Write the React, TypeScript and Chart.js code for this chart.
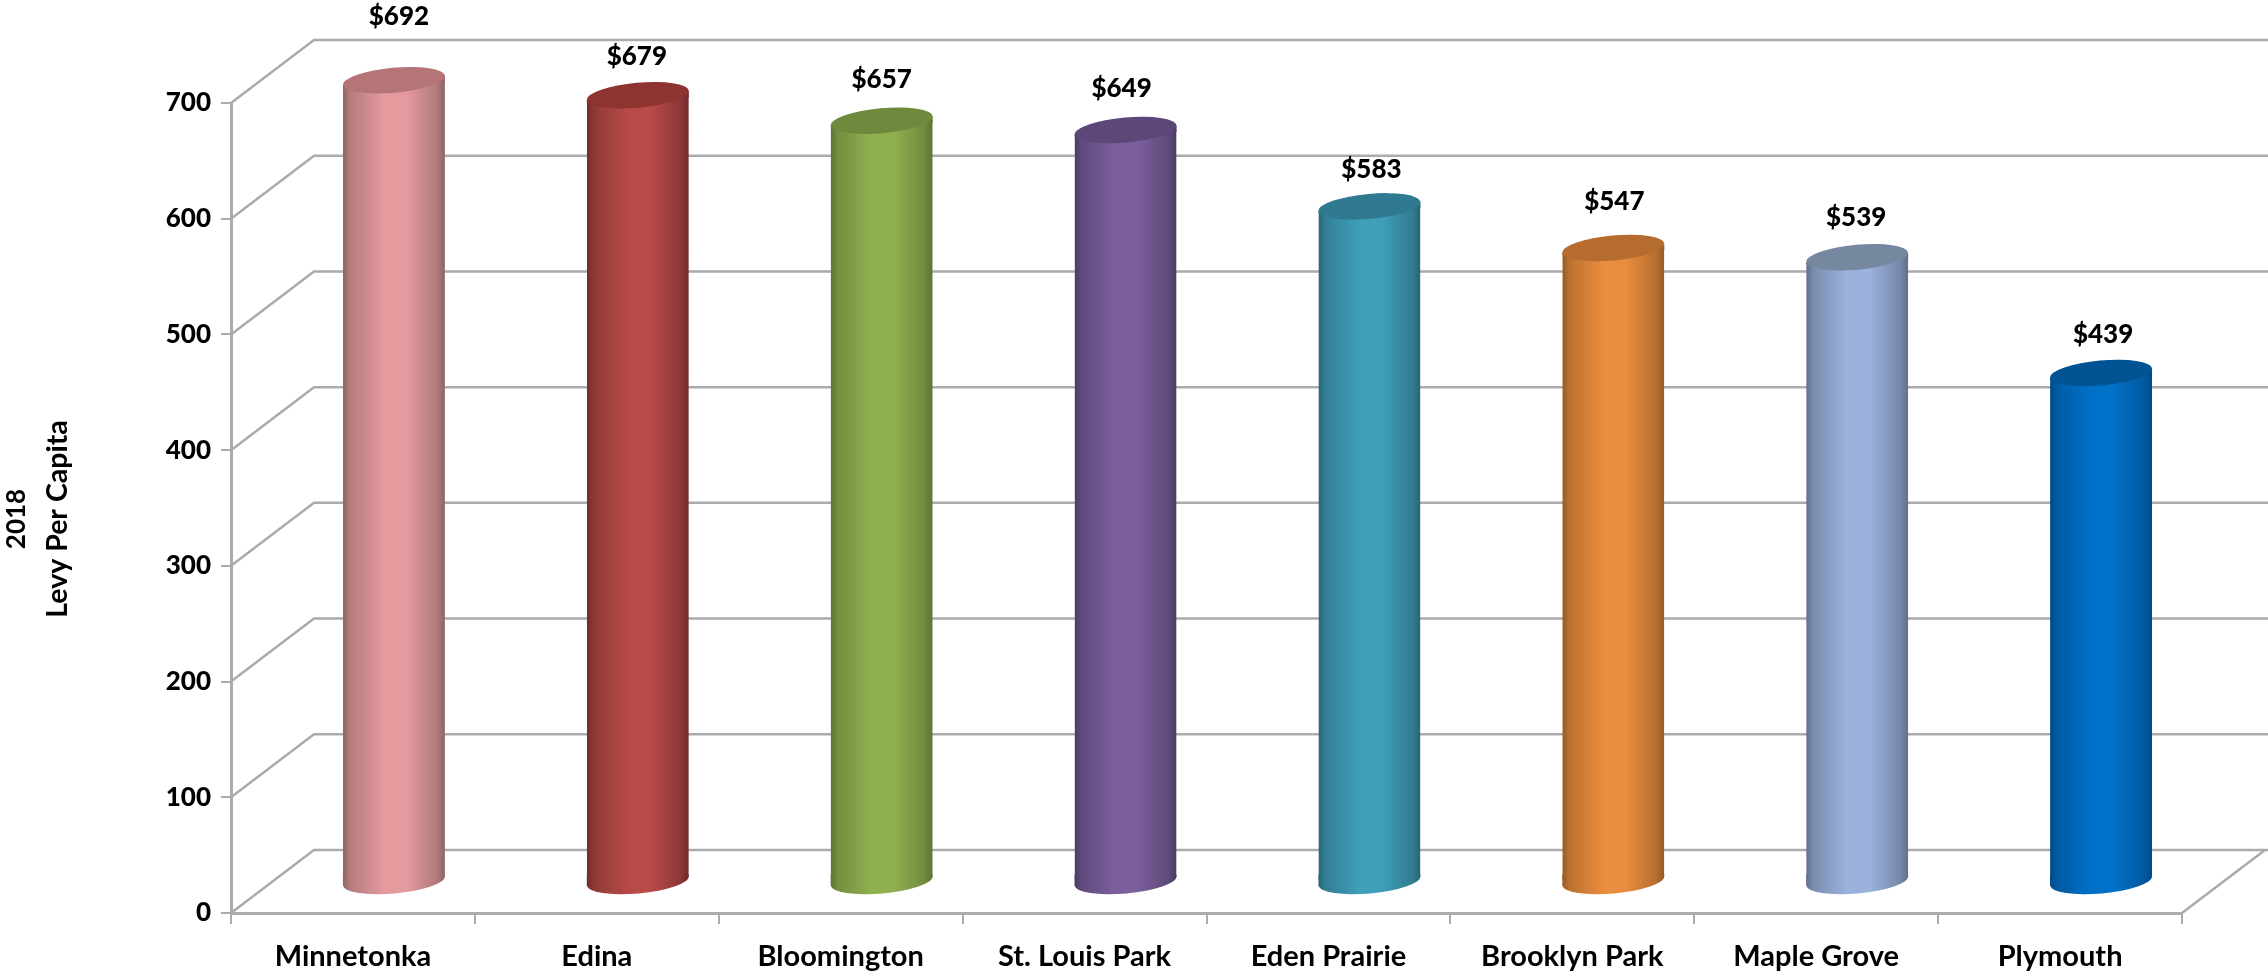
import React, { useEffect, useRef } from "react";
import { Chart, registerables } from "chart.js";

Chart.register(...registerables);

const cities = ["Minnetonka", "Edina", "Bloomington", "St. Louis Park", "Eden Prairie", "Brooklyn Park", "Maple Grove", "Plymouth"];
const levy = [692, 679, 657, 649, 583, 547, 539, 439];
const bodyColors = ["#E59A9E", "#B84A48", "#8FB04F", "#7B5F9D", "#3F9FB8", "#E98D3E", "#9BB2DC", "#0070C8"];
const edgeColors = ["#8F6464", "#6E2B2A", "#5C7433", "#4C3A63", "#276578", "#955A26", "#5F6E8A", "#014A85"];
const capColors = ["#B57478", "#8F3331", "#6F8A3C", "#5D4778", "#2F7A90", "#B56C2E", "#76889F", "#005494"];
const labelLift = [64, 39, 41, 41, 37, 46, 40, 38];
const labelShift = [5, -1, 0, -4, 2, 1, -1, 2];
const axisTitle = ["2018", "Levy Per Capita"];
const axisTitleSizes = [26, 28.5];

const FONT = "Lato, Carlito, sans-serif";
const GRID = "#ABABAB";
const DEPTH_X = 83;
const DEPTH_Y = -63;
const OFF_X = 41;
const OFF_Y = -32;
const RX = 51;
const RY = 12.5;
const TILT = -0.09;

function mix(a: string, b: string, t: number) {
  const p = (s: string, i: number) => parseInt(s.slice(1 + i * 2, 3 + i * 2), 16);
  const c = [0, 1, 2].map((i) => Math.round(p(a, i) + (p(b, i) - p(a, i)) * t));
  return `rgb(${c[0]},${c[1]},${c[2]})`;
}

function bodyGradient(ctx: CanvasRenderingContext2D, cx: number, i: number) {
  const g = ctx.createLinearGradient(cx - RX, 0, cx + RX, 0);
  g.addColorStop(0, edgeColors[i]);
  g.addColorStop(0.07, mix(edgeColors[i], bodyColors[i], 0.45));
  g.addColorStop(0.4, bodyColors[i]);
  g.addColorStop(0.62, bodyColors[i]);
  g.addColorStop(0.92, mix(edgeColors[i], bodyColors[i], 0.4));
  g.addColorStop(1, edgeColors[i]);
  return g;
}

const wallsPlugin = {
  id: "walls",
  beforeDatasetsDraw(chart: any) {
    const { ctx, scales } = chart;
    const y = scales.y;
    const left = scales.x.left;
    const right = scales.x.right;
    ctx.save();
    ctx.strokeStyle = GRID;
    ctx.lineWidth = 2.5;
    y.ticks.forEach((t: any) => {
      const py = y.getPixelForValue(t.value);
      ctx.beginPath();
      ctx.moveTo(left, py);
      ctx.lineTo(left + DEPTH_X, py + DEPTH_Y);
      ctx.lineTo(right + DEPTH_X + 3, py + DEPTH_Y);
      ctx.stroke();
    });
    const base = y.getPixelForValue(0);
    ctx.beginPath();
    ctx.moveTo(right, base);
    ctx.lineTo(right + DEPTH_X, base + DEPTH_Y);
    ctx.stroke();
    ctx.restore();

    const bars = chart.getDatasetMeta(0).data;
    ctx.save();
    ctx.translate(OFF_X, OFF_Y);
    ctx.beginPath();
    const dy = Math.tan(-TILT) * RX;
    bars.forEach((b: any) => {
      ctx.moveTo(b.x - RX, b.y + dy);
      ctx.lineTo(b.x + RX, b.y - dy);
      ctx.lineTo(b.x + RX, base - dy);
      ctx.lineTo(b.x - RX, base + dy);
      ctx.closePath();
    });
    ctx.clip();
  },
  afterDatasetsDraw(chart: any) {
    const { ctx, scales } = chart;
    const base = scales.y.getPixelForValue(0);
    ctx.restore();
    const bars = chart.getDatasetMeta(0).data;
    const dy = Math.tan(-TILT) * RX;
    ctx.save();
    ctx.translate(OFF_X, OFF_Y);
    bars.forEach((b: any, i: number) => {
      const fill = bodyGradient(ctx, b.x, i);
      ctx.fillStyle = fill;
      // tilted ends of the cylinder, so its sides run right up to the ellipse tips
      ctx.beginPath();
      ctx.moveTo(b.x - RX, base - dy - 2);
      ctx.lineTo(b.x + RX, base - dy - 2);
      ctx.lineTo(b.x + RX, base - dy);
      ctx.lineTo(b.x - RX, base + dy);
      ctx.closePath();
      ctx.fill();
      ctx.beginPath();
      ctx.moveTo(b.x - RX, b.y + dy);
      ctx.lineTo(b.x + RX, b.y - dy);
      ctx.lineTo(b.x + RX, b.y + 2);
      ctx.lineTo(b.x - RX, b.y + dy + 2);
      ctx.closePath();
      ctx.fill();
      ctx.beginPath();
      ctx.ellipse(b.x, base, RX, RY, TILT, 0, Math.PI * 2);
      ctx.fill();
      ctx.fillStyle = capColors[i];
      ctx.beginPath();
      ctx.ellipse(b.x, b.y, RX, RY, TILT, 0, Math.PI * 2);
      ctx.fill();
    });
    ctx.fillStyle = "#000";
    ctx.font = `900 26px ${FONT}`;
    ctx.textAlign = "center";
    ctx.textBaseline = "middle";
    bars.forEach((b: any, i: number) => {
      ctx.fillText(`$${levy[i]}`, b.x + labelShift[i], b.y - labelLift[i]);
    });
    ctx.restore();

    ctx.save();
    ctx.fillStyle = "#000";
    ctx.textAlign = "center";
    ctx.textBaseline = "middle";
    axisTitle.forEach((line, i) => {
      ctx.save();
      ctx.font = `bold ${axisTitleSizes[i]}px ${FONT}`;
      ctx.translate(17 + i * 41, 519);
      ctx.rotate(-Math.PI / 2);
      ctx.fillText(line, 0, 0);
      ctx.restore();
    });
    ctx.restore();
  },
};

export default function App() {
  const ref = useRef<HTMLCanvasElement>(null);
  useEffect(() => {
    const chart = new Chart(ref.current!, {
      type: "bar",
      data: {
        labels: cities,
        datasets: [
          {
            data: levy,
            barPercentage: 102 / 244,
            categoryPercentage: 1,
            clip: false as any,
            backgroundColor: (c: any) => {
              const xs = c.chart.scales?.x;
              const i = c.dataIndex;
              if (!xs || i === undefined) return bodyColors[0];
              const cx = xs.getPixelForValue(i);
              if (!Number.isFinite(cx)) return bodyColors[i];
              return bodyGradient(c.chart.ctx, cx, i);
            },
          },
        ],
      },
      plugins: [wallsPlugin],
      options: {
        animation: false,
        responsive: false,
        layout: { padding: { top: 103, left: 0, right: 86, bottom: 0 } },
        plugins: { legend: { display: false }, tooltip: { enabled: false } },
        scales: {
          x: {
            afterFit: (s: any) => { s.height = 63; },
            border: { color: GRID, width: 3 },
            grid: { drawOnChartArea: false, color: GRID, tickLength: 11, lineWidth: 2 },
            ticks: { color: "#000", padding: 15, maxRotation: 0, font: { family: FONT, size: 29, weight: "bold" } },
          },
          y: {
            min: 0,
            max: 700,
            afterFit: (s: any) => { s.width = 231; },
            border: { color: GRID, width: 3 },
            grid: { drawOnChartArea: false, color: GRID, tickLength: 10, lineWidth: 2 },
            ticks: { stepSize: 100, color: "#000", padding: 10, font: { family: FONT, size: 26, weight: "900" } },
          },
        },
      },
    });
    return () => chart.destroy();
  }, []);
  return (
    <div style={{ position: "fixed", left: 0, top: 0, width: 2268, height: 976, background: "#fff" }}>
      <canvas ref={ref} width={2268} height={976} style={{ display: "block" }} />
    </div>
  );
}
